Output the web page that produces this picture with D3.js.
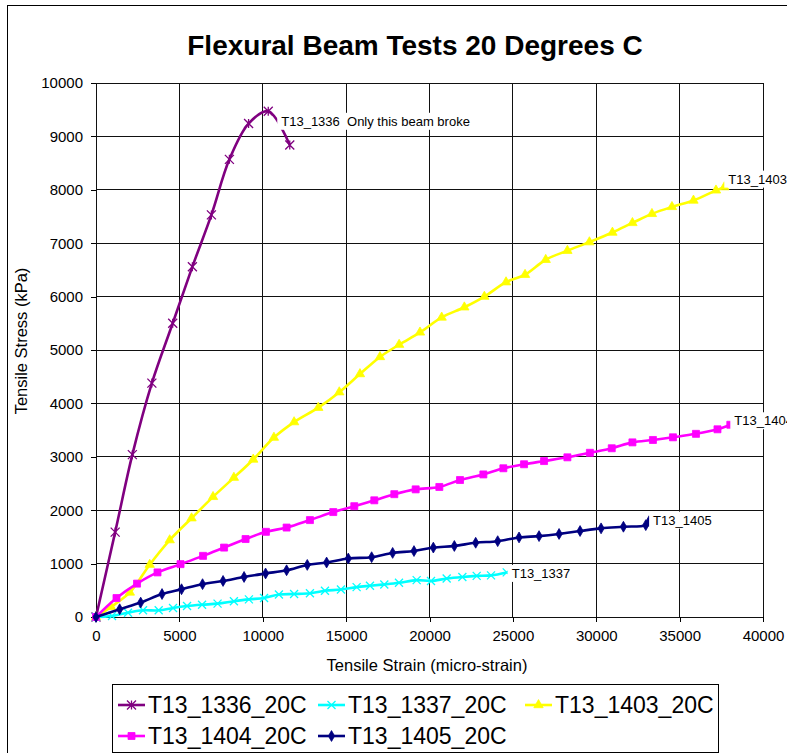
<!DOCTYPE html>
<html>
<head>
  <meta charset="utf-8">
  <title>Flexural Beam Tests 20 Degrees C</title>
  <script src="https://cdn.jsdelivr.net/npm/d3@7"></script>
  <style>
    body { margin: 0; background: #fff; }
    svg { display: block; font-family: Arial, "Liberation Sans", sans-serif; }
  </style>
</head>
<body>
  <div id="chart"></div>
  <script>
    // data (micro-strain vs kPa)
    var seriesNames = ["T13_1336_20C", "T13_1337_20C", "T13_1403_20C", "T13_1404_20C", "T13_1405_20C"];
    var labelTexts = ["T13_1336  Only this beam broke", "T13_1337", "T13_1403", "T13_1404", "T13_1405"];

    var strain1336 = [0, 1150, 2180, 3350, 4600, 5780, 6920, 8000, 9150, 10330, 11620];
    var stress1336 = [0, 1590, 3040, 4380, 5500, 6560, 7530, 8570, 9240, 9470, 8840];

    var strain1337 = [0, 960, 1920, 2820, 3760, 4620, 5460, 6360, 7290, 8270, 9170, 10080, 10970, 11880,
      12830, 13730, 14690, 15630, 16430, 17290, 18170, 19230, 20090, 21030, 21970, 22830, 23690, 24630];
    var stress1337 = [0, 20, 80, 125, 125, 170, 205, 230, 250, 295, 330, 355, 420, 430,
      445, 490, 515, 560, 585, 610, 640, 690, 675, 720, 750, 770, 780, 835];

    var strain1403 = [0, 900, 2030, 3220, 4420, 5730, 7020, 8270, 9430, 10670, 11880, 13330, 14590, 15830,
      17030, 18180, 19430, 20730, 22090, 23290, 24590, 25730, 26970, 28270, 29590, 30970, 32170, 33340,
      34540, 35830, 37180, 37680];
    var stress1403 = [0, 190, 460, 980, 1440, 1850, 2250, 2610, 2950, 3360, 3650, 3920, 4210, 4550,
      4870, 5100, 5330, 5610, 5800, 6000, 6270, 6410, 6690, 6860, 7020, 7200, 7380, 7550,
      7680, 7800, 7990, 8050];

    var strain1404 = [0, 1230, 2460, 3690, 5070, 6420, 7680, 8970, 10190, 11430, 12830, 14230, 15490, 16690,
      17890, 19170, 20590, 21830, 23230, 24430, 25670, 26870, 28270, 29620, 30930, 32170, 33400, 34600,
      35980, 37270, 38040];
    var stress1404 = [0, 355, 625, 835, 990, 1145, 1300, 1460, 1595, 1675, 1815, 1965, 2075, 2185,
      2300, 2390, 2435, 2565, 2670, 2785, 2860, 2920, 2990, 3075, 3160, 3270, 3315, 3365,
      3430, 3515, 3600];

    var strain1405 = [0, 1420, 2680, 3960, 5130, 6390, 7620, 8880, 10170, 11430, 12670, 13830, 15130, 16530,
      17790, 19070, 20230, 21490, 22770, 24090, 25370, 26570, 27770, 29030, 30290, 31630, 32970, 33170];
    var stress1405 = [0, 145, 270, 430, 520, 615, 675, 750, 815, 875, 975, 1020, 1095, 1120,
      1200, 1235, 1300, 1330, 1390, 1420, 1490, 1515, 1555, 1610, 1660, 1690, 1720, 1795];

    var xTicks = [0, 5000, 10000, 15000, 20000, 25000, 30000, 35000, 40000];
    var yTicks = [0, 1000, 2000, 3000, 4000, 5000, 6000, 7000, 8000, 9000, 10000];

    var strains = [strain1336, strain1337, strain1403, strain1404, strain1405];
    var stresses = [stress1336, stress1337, stress1403, stress1404, stress1405];
    var colors = ["#800080", "#00ffff", "#ffff00", "#ff00ff", "#000080"];
    var markers = ["star", "x", "triangle", "square", "diamond"];
    // which point each data label is attached to (index into the series)
    var labelPoint = [9, 27, 31, 30, 27];

    var width = 787, height = 753;
    var plot = { left: 96, top: 83, right: 763, bottom: 617 };

    var svg = d3.select("#chart").append("svg")
      .attr("width", width)
      .attr("height", height);

    svg.append("rect").attr("width", width).attr("height", height).attr("fill", "#fff");

    // outer chart border (runs off the right and bottom edges)
    svg.append("rect")
      .attr("x", 7.5).attr("y", 5.5)
      .attr("width", 820).attr("height", 800)
      .attr("fill", "none").attr("stroke", "#000");

    var x = d3.scaleLinear().domain([0, 40000]).range([plot.left, plot.right]);
    var y = d3.scaleLinear().domain([0, 10000]).range([plot.bottom, plot.top]);

    // gridlines
    var grid = svg.append("g").attr("shape-rendering", "crispEdges");
    grid.selectAll(".hg").data(yTicks).enter().append("line")
      .attr("x1", plot.left).attr("x2", plot.right)
      .attr("y1", d => y(d)).attr("y2", d => y(d))
      .attr("stroke", "#111");
    grid.selectAll(".vg").data(xTicks).enter().append("line")
      .attr("x1", d => x(d)).attr("x2", d => x(d))
      .attr("y1", plot.top).attr("y2", plot.bottom)
      .attr("stroke", "#111");

    // axes
    var xAxis = d3.axisBottom(x).tickValues(xTicks).tickSize(5).tickPadding(8).tickFormat(d3.format("d"));
    var yAxis = d3.axisLeft(y).tickValues(yTicks).tickSize(5).tickPadding(8).tickFormat(d3.format("d"));

    var gx = svg.append("g").attr("transform", "translate(0," + plot.bottom + ")").call(xAxis);
    var gy = svg.append("g").attr("transform", "translate(" + plot.left + ",0)").call(yAxis);
    [gx, gy].forEach(function (g) {
      g.select(".domain").remove();
      g.selectAll("line").attr("stroke", "#000").attr("shape-rendering", "crispEdges");
      g.selectAll("text").attr("font-size", 15).attr("font-family", "Arial, 'Liberation Sans', sans-serif").attr("fill", "#000");
    });

    // title and axis titles
    svg.append("text")
      .attr("x", 415).attr("y", 55)
      .attr("text-anchor", "middle")
      .attr("font-size", 28).attr("font-weight", "bold")
      .text("Flexural Beam Tests 20 Degrees C");

    svg.append("text")
      .attr("x", 427).attr("y", 671)
      .attr("text-anchor", "middle")
      .attr("font-size", 16.5)
      .text("Tensile Strain (micro-strain)");

    svg.append("text")
      .attr("transform", "translate(27,341) rotate(-90)")
      .attr("text-anchor", "middle")
      .attr("font-size", 16.5)
      .text("Tensile Stress (kPa)");

    // marker shapes
    function markerPath(type) {
      if (type == "star") return "M-4.5,-4.5L4.5,4.5M-4.5,4.5L4.5,-4.5M0,-4.5L0,4.5";
      if (type == "x") return "M-4,-4L4,4M-4,4L4,-4";
      if (type == "triangle") return d3.symbol().type(d3.symbolTriangle).size(38)();
      if (type == "square") return "M-3.5,-3.5H3.5V3.5H-3.5Z";
      return d3.symbol().type(d3.symbolDiamond).size(34)();
    }

    var line = d3.line()
      .x(d => x(d[0]))
      .y(d => y(d[1]))
      .curve(d3.curveCatmullRom.alpha(0.5));

    var seriesData = strains.map(function (xs, i) {
      return xs.map(function (v, j) { return [v, stresses[i][j]]; });
    });

    seriesData.forEach(function (pts, i) {
      var g = svg.append("g");
      g.append("path")
        .attr("d", line(pts))
        .attr("fill", "none")
        .attr("stroke", colors[i])
        .attr("stroke-width", 2.6)
        .attr("stroke-linejoin", "round");
      var open = markers[i] == "star" || markers[i] == "x";
      g.selectAll("path.m").data(pts).enter().append("path")
        .attr("class", "m")
        .attr("transform", d => "translate(" + x(d[0]) + "," + y(d[1]) + ")")
        .attr("d", markerPath(markers[i]))
        .attr("fill", open ? "none" : colors[i])
        .attr("stroke", colors[i])
        .attr("stroke-width", open ? 1.3 : 0.8);
    });

    // data labels with white backing
    var labelShift = [[13, 10], [5, 1], [4, -8], [4, -4], [4, -1]];
    labelTexts.forEach(function (t, i) {
      var p = seriesData[i][labelPoint[i]];
      var g = svg.append("g")
        .attr("transform", "translate(" + (x(p[0]) + labelShift[i][0]) + "," + (y(p[1]) + labelShift[i][1]) + ")");
      var bg = g.append("rect").attr("fill", "#fff");
      var txt = g.append("text")
        .attr("font-size", 13)
        .attr("dominant-baseline", "central")
        .style("white-space", "pre")
        .attr("xml:space", "preserve")
        .text(t);
      var bb = txt.node().getBBox();
      bg.attr("x", bb.x - 4).attr("y", bb.y - 1).attr("width", bb.width + 7).attr("height", bb.height + 2);
    });

    // legend
    var legend = svg.append("g");
    legend.append("rect")
      .attr("x", 112.5).attr("y", 684.5)
      .attr("width", 606).attr("height", 68)
      .attr("fill", "#fff").attr("stroke", "#000");

    var legendCols = [118, 318, 525];
    var legendRows = [705, 736];
    seriesNames.forEach(function (name, i) {
      var lx = legendCols[i % 3];
      var ly = legendRows[Math.floor(i / 3)];
      var item = legend.append("g").attr("transform", "translate(" + lx + "," + ly + ")");
      item.append("line")
        .attr("x1", 0).attr("x2", 27)
        .attr("stroke", colors[i]).attr("stroke-width", 2.6);
      var open = markers[i] == "star" || markers[i] == "x";
      item.append("path")
        .attr("transform", "translate(13.5,0)")
        .attr("d", markerPath(markers[i]))
        .attr("fill", open ? "none" : colors[i])
        .attr("stroke", colors[i])
        .attr("stroke-width", open ? 1.3 : 0.8);
      item.append("text")
        .attr("x", 30)
        .attr("dominant-baseline", "central")
        .attr("font-size", 23)
        .text(name);
    });
  </script>
</body>
</html>
